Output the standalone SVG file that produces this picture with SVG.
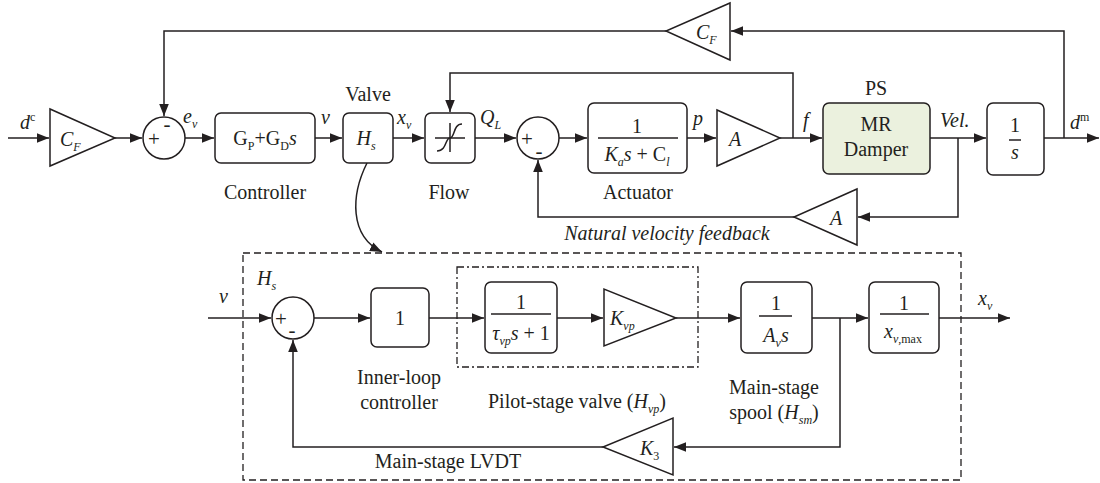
<svg xmlns="http://www.w3.org/2000/svg" width="1100" height="483" viewBox="0 0 1100 483">
<style>
.ln{fill:none;stroke:#231f20;stroke-width:1.5}
.bx{fill:#fff;stroke:#231f20;stroke-width:1.5}
.gb{fill:#ebf1de;stroke:#231f20;stroke-width:1.5}
.t{font-family:"Liberation Serif","Times New Roman",serif;font-size:20px;fill:#231f20}
.i{font-style:italic}
.c{text-anchor:middle}
.s{font-size:12px}
.sg{font-family:"Liberation Serif",serif;font-size:21px;fill:#231f20}
.dash{fill:none;stroke:#231f20;stroke-width:1.3;stroke-dasharray:7 4}
.dd{fill:none;stroke:#231f20;stroke-width:1.3;stroke-dasharray:7 3 2 3}
</style>
<defs>
<marker id="ah" viewBox="0 0 10 8" refX="10" refY="4" markerWidth="12" markerHeight="10" orient="auto" markerUnits="userSpaceOnUse"><path d="M0,0 L10,4 L0,8 z" fill="#231f20"/></marker>
</defs>
<rect width="1100" height="483" fill="#fff"/>

<g id="connectors">
<path class="ln" d="M8,138 H49" marker-end="url(#ah)"/>
<path class="ln" d="M115,138 H142" marker-end="url(#ah)"/>
<path class="ln" d="M185,138 H214" marker-end="url(#ah)"/>
<path class="ln" d="M315,138 H342" marker-end="url(#ah)"/>
<path class="ln" d="M393,138 H424" marker-end="url(#ah)"/>
<path class="ln" d="M475,138 H516" marker-end="url(#ah)"/>
<path class="ln" d="M559,138 H587" marker-end="url(#ah)"/>
<path class="ln" d="M687,138 H716" marker-end="url(#ah)"/>
<path class="ln" d="M780,138 H822" marker-end="url(#ah)"/>
<path class="ln" d="M930,138 H986" marker-end="url(#ah)"/>
<path class="ln" d="M1044,138 H1099" marker-end="url(#ah)"/>
<path class="ln" d="M1064,138 V31 H731" marker-end="url(#ah)"/>
<path class="ln" d="M666,31 H164 V116" marker-end="url(#ah)"/>
<path class="ln" d="M793,138 V73 H450 V112" marker-end="url(#ah)"/>
<path class="ln" d="M958,138 V217 H858" marker-end="url(#ah)"/>
<path class="ln" d="M794,217 H538 V160" marker-end="url(#ah)"/>
<path class="ln" d="M367,163 C351,195 349,236 382,252" marker-end="url(#ah)"/>
<path class="ln" d="M208,318 H271" marker-end="url(#ah)"/>
<path class="ln" d="M314,318 H370" marker-end="url(#ah)"/>
<path class="ln" d="M429,318 H484" marker-end="url(#ah)"/>
<path class="ln" d="M557,318 H603" marker-end="url(#ah)"/>
<path class="ln" d="M676,318 H740" marker-end="url(#ah)"/>
<path class="ln" d="M812,318 H868" marker-end="url(#ah)"/>
<path class="ln" d="M939,318 H1010" marker-end="url(#ah)"/>
<path class="ln" d="M840,318 V447 H674" marker-end="url(#ah)"/>
<path class="ln" d="M603,447 H293 V340" marker-end="url(#ah)"/>
</g>

<g id="input-dc">
<text class="t i" x="20" y="129">d<tspan class="s" dy="-8" font-style="normal">c</tspan></text>
</g>

<g id="gain-cf-in">
<path class="bx" d="M50,109 L50,166 L115,138 z"/>
<text class="t i" x="60" y="146">C<tspan class="s" dy="5">F</tspan></text>
</g>

<g id="sum1">
<circle class="bx" cx="164" cy="138" r="21"/>
<text class="sg c" x="154" y="146">+</text>
<text class="sg c" x="167" y="131">-</text>
<text class="t i" x="183" y="123">e<tspan class="s" dy="5">ν</tspan></text>
</g>

<g id="controller">
<rect class="bx" x="215" y="113" width="100" height="50" rx="6"/>
<text class="t c" x="265" y="145">G<tspan class="s" dy="5">P</tspan><tspan dy="-5">+G</tspan><tspan class="s" dy="5">D</tspan><tspan class="i" dy="-5">s</tspan></text>
<text class="t c" x="265" y="199">Controller</text>
<text class="t i" x="321" y="124">ν</text>
</g>

<g id="valve">
<rect class="bx" x="343" y="113" width="50" height="50" rx="6"/>
<text class="t i c" x="366" y="145">H<tspan class="s" dy="5">s</tspan></text>
<text class="t c" x="368" y="101">Valve</text>
<text class="t i" x="397" y="124">x<tspan class="s" dy="5">ν</tspan></text>
</g>

<g id="flow">
<rect class="bx" x="425" y="113" width="50" height="50" rx="6"/>
<path class="ln" d="M435,138 H465 M450,123 V152"/>
<path class="ln" d="M437,151 C447,151 445,138 450,138 C455,138 453,124 462,124"/>
<text class="t c" x="449" y="199">Flow</text>
<text class="t i" x="480" y="124">Q<tspan class="s" dy="5">L</tspan></text>
</g>

<g id="sum2">
<circle class="bx" cx="538" cy="138" r="21"/>
<text class="sg c" x="527" y="146">+</text>
<text class="sg c" x="539" y="158">-</text>
</g>

<g id="actuator">
<rect class="bx" x="588" y="103" width="99" height="70" rx="6"/>
<text class="t c" x="637" y="133">1</text>
<path class="ln" d="M598,138 H678"/>
<text class="t c" x="637" y="161"><tspan class="i">K</tspan><tspan class="s i" dy="5">a</tspan><tspan class="i" dy="-5">s</tspan> + C<tspan class="s i" dy="5">l</tspan></text>
<text class="t c" x="638" y="199">Actuator</text>
<text class="t i" x="693" y="125">p</text>
</g>

<g id="gain-a">
<path class="bx" d="M717,110 L717,166 L780,138 z"/>
<text class="t i" x="729" y="146">A</text>
<text class="t i" x="803" y="127">f</text>
</g>

<g id="mr-damper">
<rect class="gb" x="823" y="103" width="107" height="71" rx="6"/>
<text class="t c" x="876" y="131">MR</text>
<text class="t c" x="876" y="156">Damper</text>
<text class="t c" x="876" y="95">PS</text>
<text class="t i" x="940" y="127">Vel.</text>
</g>

<g id="integrator">
<rect class="bx" x="987" y="103" width="57" height="72" rx="6"/>
<text class="t c" x="1015" y="132">1</text>
<path class="ln" d="M1009,140 H1021"/>
<text class="t i c" x="1015" y="159">s</text>
<text class="t i" x="1070" y="129">d<tspan class="s" dy="-8" font-style="normal">m</tspan></text>
</g>

<g id="gain-cf-fb">
<path class="bx" d="M730,3 L730,60 L666,31 z"/>
<text class="t i" x="696" y="39">C<tspan class="s" dy="5">F</tspan></text>
</g>

<g id="gain-a-fb">
<path class="bx" d="M857,189 L857,245 L794,217 z"/>
<text class="t i" x="830" y="225">A</text>
<text class="t i c" x="667" y="240">Natural velocity feedback</text>
</g>

<g id="valve-detail">
<rect class="dash" x="243" y="253" width="718" height="227"/>
<text class="t i" x="257" y="285">H<tspan class="s" dy="5">s</tspan></text>
<text class="t i" x="219" y="303">ν</text>
</g>

<g id="sum3">
<circle class="bx" cx="293" cy="318" r="21"/>
<text class="sg c" x="281" y="326">+</text>
<text class="sg c" x="292" y="337">-</text>
</g>

<g id="inner-controller">
<rect class="bx" x="371" y="288" width="58" height="59" rx="6"/>
<text class="t c" x="400" y="325">1</text>
<text class="t c" x="399" y="384">Inner-loop</text>
<text class="t c" x="399" y="409">controller</text>
</g>

<g id="pilot-stage">
<rect class="dd" x="457" y="267" width="241" height="100"/>
<rect class="bx" x="485" y="282" width="72" height="71" rx="6"/>
<text class="t c" x="521" y="309">1</text>
<path class="ln" d="M491,314 H551"/>
<text class="t c" x="521" y="340"><tspan class="i">τ</tspan><tspan class="s i" dy="5">vp</tspan><tspan class="i" dy="-5">s</tspan> + 1</text>
<path class="bx" d="M604,289 L604,346 L676,318 z"/>
<text class="t i" x="610" y="325">K<tspan class="s" dy="5">vp</tspan></text>
<text class="t c" x="577" y="408">Pilot-stage valve (<tspan class="i">H</tspan><tspan class="s i" dy="5">vp</tspan><tspan dy="-5">)</tspan></text>
</g>

<g id="main-stage">
<rect class="bx" x="741" y="282" width="71" height="71" rx="6"/>
<text class="t c" x="776" y="310">1</text>
<path class="ln" d="M759,316 H792"/>
<text class="t i c" x="776" y="342">A<tspan class="s" dy="5">ν</tspan><tspan dy="-5">s</tspan></text>
<text class="t c" x="774" y="394">Main-stage</text>
<text class="t c" x="774" y="419">spool (<tspan class="i">H</tspan><tspan class="s i" dy="5">sm</tspan><tspan dy="-5">)</tspan></text>
</g>

<g id="normalize">
<rect class="bx" x="869" y="282" width="70" height="71" rx="6"/>
<text class="t c" x="904" y="310">1</text>
<path class="ln" d="M880,314 H929"/>
<text class="t c" x="903" y="338"><tspan class="i">x</tspan><tspan class="s" dy="5"><tspan class="i">ν</tspan>,max</tspan></text>
<text class="t i" x="978" y="305">x<tspan class="s" dy="5">ν</tspan></text>
</g>

<g id="lvdt">
<path class="bx" d="M673,418 L673,475 L603,447 z"/>
<text class="t i" x="640" y="455">K<tspan class="s" dy="5" font-style="normal">3</tspan></text>
<text class="t c" x="448" y="468">Main-stage LVDT</text>
</g>
</svg>
